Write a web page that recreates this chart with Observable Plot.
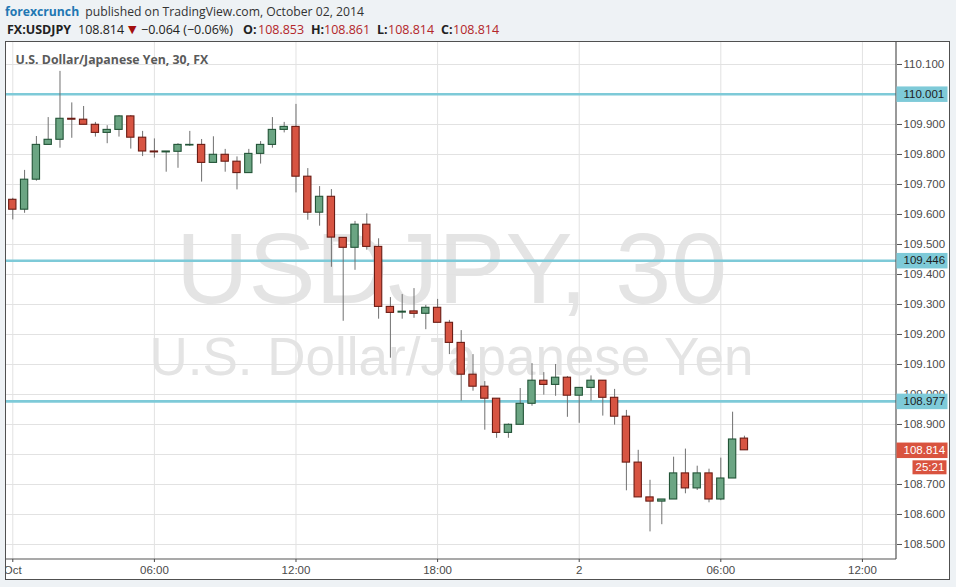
<!DOCTYPE html>
<html>
<head>
<meta charset="utf-8">
<script src="https://cdn.jsdelivr.net/npm/d3@7"></script>
<script src="https://cdn.jsdelivr.net/npm/@observablehq/plot@0.6"></script>
<style>
  html, body { margin: 0; padding: 0; }
  body { width: 956px; height: 587px; background: #eef2f5; position: relative; overflow: hidden; font-family: "Open Sans", "Noto Sans", sans-serif; }
  .hdr { position: absolute; white-space: nowrap; }
  #l1 { left: 5px; top: 3px; font-size: 12.2px; line-height: 18px; color: #333; }
  #l1 .brand { color: #2177b3; font-weight: 700; margin-right: 3px; }
  #l2 { left: 0; top: 21px; width: 600px; height: 18px; font-size: 12.5px; line-height: 18px; color: #222; }
  #l2 span { position: absolute; top: 0; }
  #l2 .b { font-weight: 700; }
  #l2 .r { color: #b3262a; }
  #l2 .tri { color: #a3100f; font-family: "DejaVu Sans", sans-serif; font-size: 11px; }
  #panel { position: absolute; left: 5px; top: 41px; width: 943px; height: 537px; border: 1px solid #505050; background: #fff; overflow: hidden; }
  #panel svg { display: block; }
</style>
</head>
<body>
<div class="hdr" id="l1"><span class="brand">forexcrunch</span> published on TradingView.com, October 02, 2014</div>
<div class="hdr" id="l2">
  <span class="b" style="left:7px">FX:USDJPY</span>
  <span style="left:78px">108.814</span>
  <span class="tri" style="left:128px">▼</span>
  <span style="left:141px">−0.064 (−0.06%)</span>
  <span class="b" style="left:243px">O:</span><span class="r" style="left:258px">108.853</span>
  <span class="b" style="left:311px">H:</span><span class="r" style="left:324px">108.861</span>
  <span class="b" style="left:377px">L:</span><span class="r" style="left:388px">108.814</span>
  <span class="b" style="left:441px">C:</span><span class="r" style="left:453px">108.814</span>
</div>
<div id="panel"></div>
<script>
// ---- data (30-minute bars starting 2014-10-01 00:00) ----
const startTime = "2014-10-01T00:00:00Z";
const open  = [109.649,109.616,109.716,109.832,109.849,109.919,109.916,109.899,109.872,109.882,109.927,109.856,109.810,109.807,109.809,109.830,109.832,109.772,109.799,109.776,109.738,109.802,109.832,109.882,109.892,109.726,109.606,109.659,109.522,109.489,109.566,109.492,109.292,109.273,109.277,109.269,109.289,109.239,109.172,109.066,109.026,108.986,108.872,108.899,108.969,109.046,109.032,109.056,108.996,109.022,109.046,108.989,108.926,108.773,108.657,108.643,108.650,108.737,108.687,108.737,108.650,108.720,108.853];
const high  = [109.654,109.747,109.860,109.923,110.077,109.972,109.960,109.907,109.896,109.930,109.930,109.877,109.852,109.810,109.836,109.877,109.850,109.859,109.817,109.792,109.817,109.843,109.923,109.907,109.967,109.753,109.693,109.683,109.522,109.577,109.602,109.519,109.323,109.333,109.353,109.297,109.317,109.247,109.213,109.133,109.043,108.986,108.902,109.020,109.103,109.073,109.100,109.060,109.022,109.062,109.046,109.017,108.947,108.814,108.714,108.650,108.791,108.818,108.761,108.751,108.788,108.941,108.861];
const low   = [109.582,109.604,109.711,109.832,109.821,109.854,109.899,109.858,109.836,109.858,109.818,109.793,109.788,109.741,109.754,109.827,109.708,109.772,109.741,109.682,109.738,109.768,109.821,109.872,109.672,109.581,109.561,109.424,109.244,109.414,109.481,109.251,109.121,109.251,109.254,109.216,109.239,109.133,108.978,109.011,108.881,108.854,108.854,108.899,108.961,108.998,108.994,108.924,108.904,108.978,108.928,108.898,108.679,108.657,108.542,108.566,108.650,108.669,108.680,108.639,108.646,108.720,108.814];
const close = [109.616,109.716,109.832,109.849,109.919,109.916,109.899,109.872,109.882,109.927,109.856,109.810,109.807,109.810,109.832,109.832,109.772,109.799,109.776,109.738,109.802,109.832,109.882,109.892,109.726,109.606,109.659,109.523,109.489,109.566,109.492,109.292,109.272,109.276,109.269,109.289,109.239,109.172,109.066,109.026,108.986,108.872,108.899,108.969,109.046,109.032,109.056,108.996,109.022,109.046,108.989,108.926,108.773,108.657,108.643,108.650,108.737,108.687,108.737,108.650,108.720,108.850,108.814];

const levels = [110.001, 109.446, 108.977];          // horizontal drawn lines
const lastPrice = [108.814];
const countdown = ["25:21"];

const yTicks = [108.5,108.6,108.7,108.8,108.9,109.0,109.1,109.2,109.3,109.4,109.5,109.6,109.7,109.8,109.9,110.0,110.1];
// 108.800 sits fully behind the last-price label in the reference
const yTickLabels = ["108.500","108.600","108.700","","108.900","109.000","109.100","109.200","109.300","109.400","109.500","109.600","109.700","109.800","109.900","110.000","110.100"];
const xTickTimes = ["2014-10-01T00:00Z","2014-10-01T06:00Z","2014-10-01T12:00Z","2014-10-01T18:00Z","2014-10-02T00:00Z","2014-10-02T06:00Z","2014-10-02T12:00Z"];
const xTickLabels = ["Oct","06:00","12:00","18:00","2","06:00","12:00"];

const chartTitle = "U.S. Dollar/Japanese Yen, 30, FX";
const watermark1 = "USDJPY, 30";
const watermark2 = "U.S. Dollar/Japanese Yen";

// ---- build table ----
const t0 = new Date(startTime);
const bars = open.map((o, i) => ({
  time: d3.utcMinute.offset(t0, 30 * i),
  open: o, high: high[i], low: low[i], close: close[i]
}));
const xTicks = xTickTimes.map(s => new Date(s));

const GREEN = "#6ba583", GREEN_DK = "#225437";
const RED = "#d75442", RED_DK = "#6b1c14";
const TEAL = "#7ecad8";
const up = d => d.close >= d.open;

// text with a coloured box behind it, placed in the right margin
// (the mark's group is translated by dx/dy, so the box compensates)
function boxed(data, {y, text, boxFill, textFill, boxDx = 0, boxW = 51, boxH = 15.5, offY = 0, dx = 7}) {
  return Plot.text(data, {
    y, text, frameAnchor: "right", textAnchor: "start", dx, dy: offY,
    fill: textFill, fontSize: 11.5, fontFamily: "Liberation Sans, Arial, sans-serif",
    render(index, scales, values, dims, context, next) {
      const g = next(index, scales, values, dims, context);
      const x0 = dims.width - dims.marginRight + boxDx - dx;
      for (const i of index) {
        const r = document.createElementNS("http://www.w3.org/2000/svg", "rect");
        r.setAttribute("x", x0);
        r.setAttribute("y", values.y[i] - boxH / 2);
        r.setAttribute("width", boxW);
        r.setAttribute("height", boxH);
        r.setAttribute("fill", boxFill);
        g.insertBefore(r, g.firstChild);
      }
      return g;
    }
  });
}

// right and bottom axis lines
function axisLines(index, scales, values, dims) {
  const g = d3.create("svg:g").attr("stroke", "#555").attr("stroke-width", 1.2);
  const xr = dims.width - dims.marginRight, yb = dims.height - dims.marginBottom;
  g.append("line").attr("x1", xr).attr("x2", xr).attr("y1", 0).attr("y2", yb);
  g.append("line").attr("x1", 0).attr("x2", xr).attr("y1", yb).attr("y2", yb);
  return g.node();
}

const chart = Plot.plot({
  width: 943,
  height: 537,
  marginLeft: 0,
  marginTop: 0,
  marginRight: 53,
  marginBottom: 20,
  style: {fontFamily: "Liberation Sans, Arial, sans-serif", fontSize: "11px", color: "#4a4a4a", background: "white", overflow: "visible"},
  x: {type: "utc", domain: [new Date("2014-09-30T23:44:00Z"), new Date("2014-10-02T13:26:40Z")]},
  y: {domain: [108.45, 110.1733]},
  marks: [
    Plot.text([watermark1], {frameAnchor: "middle", lineAnchor: "bottom", dy: 1.5, fontSize: 100.5, fill: "#e4e4e4", fontFamily: "Liberation Sans, Arial, sans-serif"}),
    Plot.text([watermark2], {frameAnchor: "middle", lineAnchor: "bottom", dy: 73.5, fontSize: 53, fill: "#e4e4e4", fontFamily: "Liberation Sans, Arial, sans-serif"}),
    Plot.gridY(yTicks, {stroke: "#e2e2e2", strokeOpacity: 1}),
    Plot.gridX(xTicks, {stroke: "#e2e2e2", strokeOpacity: 1}),
    Plot.ruleY(levels, {stroke: TEAL, strokeWidth: 2.6}),
    Plot.ruleX(bars, {x: "time", y1: "low", y2: "high", stroke: "#707070", strokeWidth: 1}),
    Plot.rect(bars, {
      x1: d => d3.utcMinute.offset(d.time, -15),
      x2: d => d3.utcMinute.offset(d.time, 15),
      y1: "open", y2: "close",
      insetLeft: 2.25, insetRight: 2.25,
      fill: d => up(d) ? GREEN : RED,
      stroke: d => up(d) ? GREEN_DK : RED_DK,
      strokeWidth: 1.1
    }),
    Plot.text([chartTitle], {frameAnchor: "top-left", dx: 9, dy: 18, lineAnchor: "middle", textAnchor: "start", fontSize: 12.3, fontWeight: 700, fill: "#5a5a5a", fontFamily: "Open Sans, Noto Sans, sans-serif"}),
    axisLines,
    Plot.axisY({anchor: "right", ticks: yTicks, tickFormat: (d, i) => yTickLabels[i], tickSize: 5, tickPadding: 2, fontSize: 11.5, label: null, stroke: "#555", color: "#4a4a4a"}),
    Plot.axisX({ticks: xTicks, tickFormat: (d, i) => xTickLabels[i], tickSize: 3, tickPadding: 3, fontSize: 11.5, label: null, color: "#4a4a4a"}),
    boxed(levels, {y: d => d, text: d => d.toFixed(3), boxFill: TEAL, textFill: "#1d1d1d"}),
    boxed(lastPrice, {y: d => d, text: d => d.toFixed(3), boxFill: "#d9533f", textFill: "#ffffff"}),
    boxed(countdown, {y: () => lastPrice[0], text: d => d, boxFill: "#d9533f", textFill: "#ffffff", boxDx: 16, boxW: 34, boxH: 14, offY: 17, dx: 19})
  ]
});
document.getElementById("panel").appendChild(chart);
</script>
</body>
</html>
